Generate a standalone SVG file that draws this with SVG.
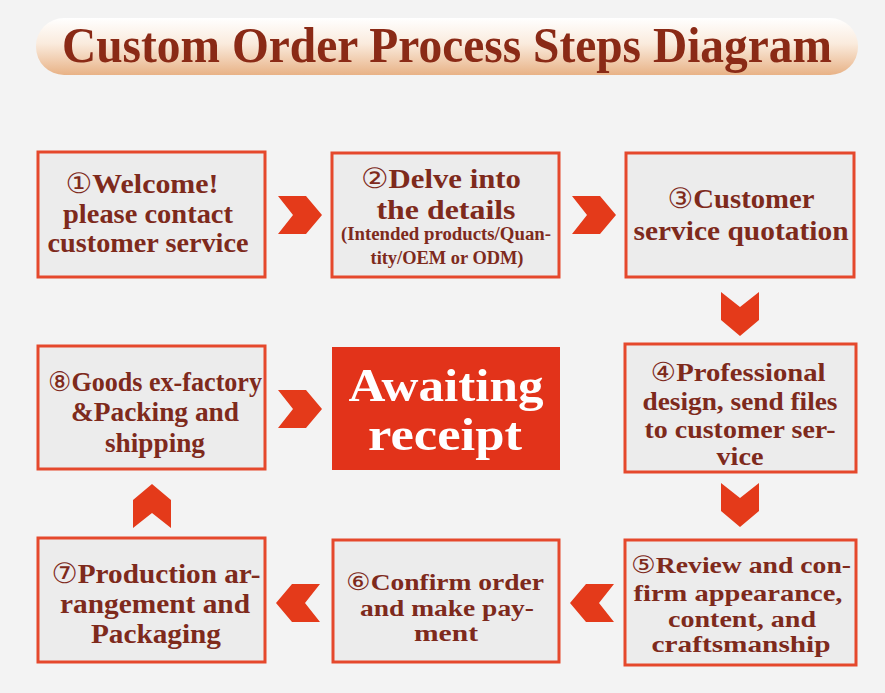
<svg xmlns="http://www.w3.org/2000/svg" xmlns:xlink="http://www.w3.org/1999/xlink" width="885" height="693" viewBox="0 0 885 693">
<style>
.box{fill:#ECECEC;stroke:#E5482C;stroke-width:3}
.t{font-family:"Liberation Serif","Times New Roman",serif;font-weight:bold;fill:#7E2A1C;text-anchor:middle}
.n{font-family:"DejaVu Sans",sans-serif;font-weight:normal}
.chev{fill:#E43A1A}
</style>
<defs>
<linearGradient id="tg" x1="0" y1="0" x2="0" y2="1">
<stop offset="0" stop-color="#FFFFFF"/>
<stop offset="0.45" stop-color="#FAEBDD"/>
<stop offset="1" stop-color="#E8B286"/>
</linearGradient>
<path id="chev" d="M0,0 H28 L44,19 L28,38 H0 L15,19 Z"/>
</defs>
<rect width="885" height="693" fill="#F3F3F3"/>
<g id="title">
<rect x="36" y="18" width="822" height="57" rx="28" fill="url(#tg)"/>
<text class="t" x="447" y="62" font-size="50" textLength="770" lengthAdjust="spacingAndGlyphs" style="fill:#8A2A16">Custom Order Process Steps Diagram</text>
</g>
<g id="connectors" class="chev">
<use xlink:href="#chev" x="278" y="196"/>
<use xlink:href="#chev" x="572" y="196"/>
<use xlink:href="#chev" transform="translate(759,292) rotate(90)"/>
<use xlink:href="#chev" transform="translate(759,483) rotate(90)"/>
<use xlink:href="#chev" transform="translate(614,584) scale(-1,1)"/>
<use xlink:href="#chev" transform="translate(320,584) scale(-1,1)"/>
<use xlink:href="#chev" transform="translate(133,528) rotate(-90)"/>
<use xlink:href="#chev" x="278" y="390"/>
</g>
<g id="step1">
<rect class="box" x="38" y="152" width="227" height="125"/>
<text class="t" font-size="28"><tspan x="142" y="193" textLength="153" lengthAdjust="spacingAndGlyphs"><tspan class="n">①</tspan>Welcome!</tspan><tspan x="148" y="223" textLength="170" lengthAdjust="spacingAndGlyphs">please contact</tspan><tspan x="148" y="252" textLength="201" lengthAdjust="spacingAndGlyphs">customer service</tspan></text>
</g>
<g id="step2">
<rect class="box" x="332" y="153" width="227" height="124"/>
<text class="t" font-size="28"><tspan x="441" y="188" textLength="160" lengthAdjust="spacingAndGlyphs"><tspan class="n">②</tspan>Delve into</tspan><tspan x="446" y="219" textLength="139" lengthAdjust="spacingAndGlyphs">the details</tspan></text>
<text class="t" font-size="18"><tspan x="446" y="240" textLength="210" lengthAdjust="spacingAndGlyphs">(Intended products/Quan-</tspan><tspan x="447" y="264" textLength="153" lengthAdjust="spacingAndGlyphs">tity/OEM or ODM)</tspan></text>
</g>
<g id="step3">
<rect class="box" x="626" y="153" width="228" height="124"/>
<text class="t" font-size="28"><tspan x="741" y="208" textLength="147" lengthAdjust="spacingAndGlyphs"><tspan class="n">③</tspan>Customer</tspan><tspan x="741" y="240" textLength="215" lengthAdjust="spacingAndGlyphs">service quotation</tspan></text>
</g>
<g id="step4">
<rect class="box" x="625" y="344" width="231" height="128"/>
<text class="t" font-size="26"><tspan x="738" y="381" textLength="175" lengthAdjust="spacingAndGlyphs"><tspan class="n">④</tspan>Professional</tspan><tspan x="740" y="410" textLength="195" lengthAdjust="spacingAndGlyphs">design, send files</tspan><tspan x="740" y="438" textLength="191" lengthAdjust="spacingAndGlyphs">to customer ser-</tspan><tspan x="740" y="465" textLength="47" lengthAdjust="spacingAndGlyphs">vice</tspan></text>
</g>
<g id="receipt">
<rect x="332" y="347" width="228" height="123" fill="#E2331A"/>
<text class="t" font-size="46" style="fill:#FFFFFF"><tspan x="446" y="401" textLength="195" lengthAdjust="spacingAndGlyphs">Awaiting</tspan><tspan x="445" y="450" textLength="154" lengthAdjust="spacingAndGlyphs">receipt</tspan></text>
</g>
<g id="step8">
<rect class="box" x="38" y="346" width="227" height="123"/>
<text class="t" font-size="27"><tspan x="155" y="391" textLength="214" lengthAdjust="spacingAndGlyphs"><tspan class="n">⑧</tspan>Goods ex-factory</tspan><tspan x="155" y="421" textLength="168" lengthAdjust="spacingAndGlyphs">&amp;Packing and</tspan><tspan x="155" y="452" textLength="100" lengthAdjust="spacingAndGlyphs">shipping</tspan></text>
</g>
<g id="step7">
<rect class="box" x="38" y="538" width="227" height="124"/>
<text class="t" font-size="28"><tspan x="156" y="583" textLength="209" lengthAdjust="spacingAndGlyphs"><tspan class="n">⑦</tspan>Production ar-</tspan><tspan x="155" y="613" textLength="190" lengthAdjust="spacingAndGlyphs">rangement and</tspan><tspan x="156" y="643" textLength="130" lengthAdjust="spacingAndGlyphs">Packaging</tspan></text>
</g>
<g id="step6">
<rect class="box" x="333" y="540" width="226" height="122"/>
<text class="t" font-size="24"><tspan x="445" y="590" textLength="198" lengthAdjust="spacingAndGlyphs"><tspan class="n">⑥</tspan>Confirm order</tspan><tspan x="447" y="616" textLength="174" lengthAdjust="spacingAndGlyphs">and make pay-</tspan><tspan x="446" y="641" textLength="64" lengthAdjust="spacingAndGlyphs">ment</tspan></text>
</g>
<g id="step5">
<rect class="box" x="625" y="540" width="231" height="125"/>
<text class="t" font-size="24"><tspan x="741" y="573" textLength="220" lengthAdjust="spacingAndGlyphs"><tspan class="n">⑤</tspan>Review and con-</tspan><tspan x="738" y="601" textLength="209" lengthAdjust="spacingAndGlyphs">firm appearance,</tspan><tspan x="742" y="627" textLength="148" lengthAdjust="spacingAndGlyphs">content, and</tspan><tspan x="741" y="652" textLength="179" lengthAdjust="spacingAndGlyphs">craftsmanship</tspan></text>
</g>
</svg>
